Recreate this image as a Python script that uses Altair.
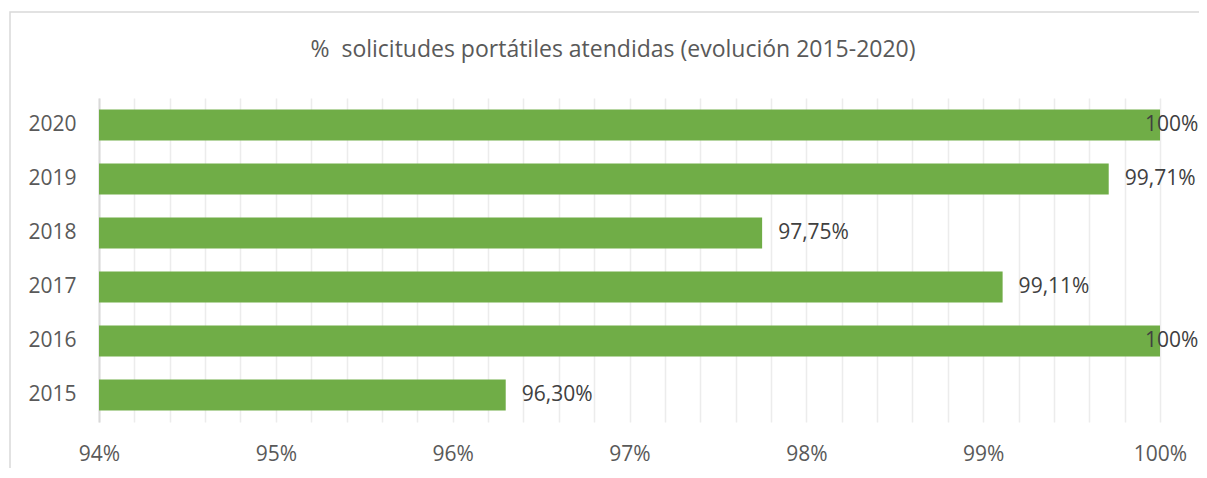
import altair as alt
import pandas as pd

years = ["2020", "2019", "2018", "2017", "2016", "2015"]
values = [1.0, 0.9971, 0.9775, 0.9911, 1.0, 0.9630]
labels = ["100%", "99,71%", "97,75%", "99,11%", "100%", "96,30%"]
title_text = "%\u00a0 solicitudes portátiles atendidas (evolución 2015-2020)"

df = pd.DataFrame({"year": years, "value": values, "label": labels})

grid_vals = [round(0.94 + i * 0.002, 3) for i in range(31)]
FONT = "Open Sans"
GRAY = "#595959"

y_enc = alt.Y("year:N", sort=years, title=None,
              scale=alt.Scale(paddingInner=0.43, paddingOuter=0.215),
              axis=alt.Axis(labelFont=FONT, labelFontSize=21, labelColor=GRAY,
                            labelPadding=23, ticks=False, domainColor="#d9d9d9",
                            domainWidth=2, grid=False))
x_scale = alt.Scale(domain=[0.94, 1.0], nice=False, zero=False, clamp=True)

bars = alt.Chart(df).mark_bar(color="#70AD47").encode(
    x=alt.X("value:Q", scale=x_scale, title=None,
            axis=alt.Axis(values=grid_vals, tickCount=60, labelOverlap=False,
                          labelFlush=False,
                          labelExpr="abs(datum.value*100 - round(datum.value*100)) < 0.01 ? format(datum.value, '.0%') : ''",
                          labelFont=FONT, labelFontSize=21, labelColor=GRAY,
                          labelPadding=21, ticks=False, domain=False,
                          grid=True, gridColor="#ececec", gridWidth=1.5)),
    y=y_enc,
)

txt_common = dict(font=FONT, fontSize=21, color="#404040", align="left", baseline="middle")
lab_lo = alt.Chart(df).transform_filter("datum.value < 1").mark_text(dx=16, **txt_common).encode(
    x=alt.X("value:Q", scale=x_scale), y=alt.Y("year:N", sort=years), text="label:N")
lab_hi = alt.Chart(df).transform_filter("datum.value >= 1").mark_text(dx=-15, **txt_common).encode(
    x=alt.X("value:Q", scale=x_scale), y=alt.Y("year:N", sort=years), text="label:N")

frame = alt.Chart(pd.DataFrame({"a": [0]})).mark_rect(
    fill=None, stroke="#d9d9d9", strokeWidth=1.5).encode(
    x=alt.value(-89), x2=alt.value(1150), y=alt.value(-86), y2=alt.value(420))

title = alt.Chart(pd.DataFrame({"t": [title_text]})).mark_text(
    font=FONT, fontSize=23, color=GRAY, align="center", baseline="middle").encode(
    text="t:N", x=alt.value(514), y=alt.value(-48))

chart = alt.layer(frame, bars, lab_lo, lab_hi, title).properties(
    width=1061, height=324,
    autosize=alt.AutoSizeParams(type="none"),
    padding={"left": 91, "top": 90, "right": 39, "bottom": 46},
).configure_view(stroke=None)

chart.save("out.html", embed_options={"renderer": "svg", "actions": False})
